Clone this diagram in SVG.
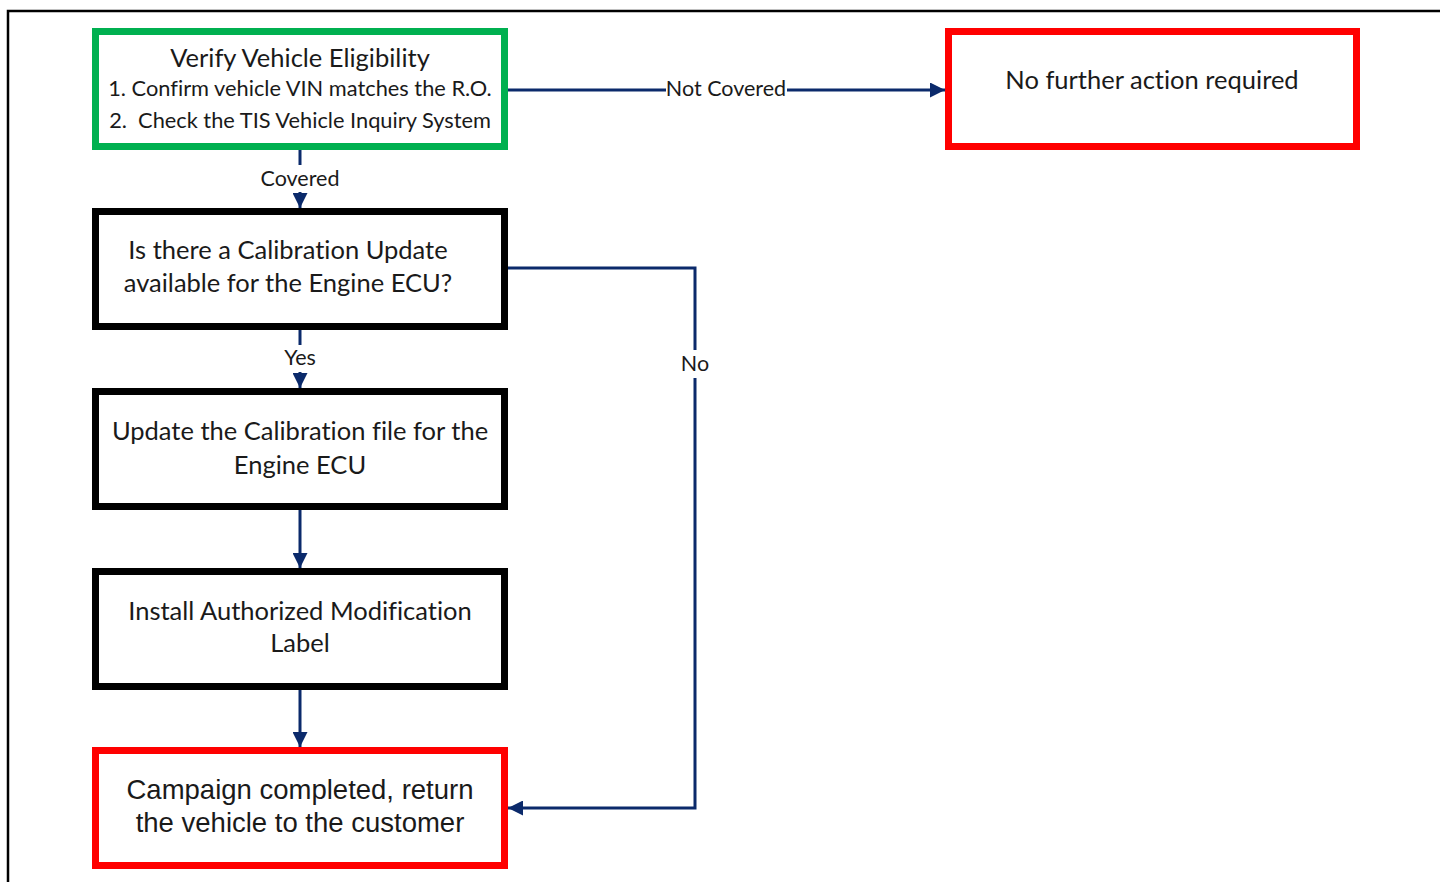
<svg xmlns="http://www.w3.org/2000/svg" width="1440" height="882" viewBox="0 0 1440 882">
<style>
.box{fill:#fff;stroke-width:7}
.g{stroke:#00b050}
.r{stroke:#ff0000}
.k{stroke:#000}
.t{font-family:Lato,"Open Sans",sans-serif;fill:#1a1a1a;text-anchor:middle;font-variant-ligatures:none}
.a{font-family:"Liberation Sans",Arial,sans-serif;fill:#1a1a1a;text-anchor:middle}
.c{fill:none;stroke:#0b2a6b;stroke-width:3}
.lbl{font-family:Lato,"Open Sans",sans-serif;font-size:21.5px;fill:#1a1a1a;text-anchor:middle}
</style>
<defs>
<marker id="ah" viewBox="0 0 10 10" refX="10" refY="5" markerWidth="5" markerHeight="5" markerUnits="strokeWidth" orient="auto">
<path d="M0,0 L10,5 L0,10 z" fill="#0b2a6b"/>
</marker>
</defs>
<rect width="1440" height="882" fill="#fff"/>
<path d="M8,882 V11 H1440" fill="none" stroke="#000" stroke-width="2.5"/>

<g id="connectors">
<path class="c" d="M300,150 V165"/>
<path class="c" d="M300,192 V208" marker-end="url(#ah)"/>
<text class="lbl" x="300" y="186">Covered</text>
<path class="c" d="M508,90 H666"/>
<path class="c" d="M787,90 H945" marker-end="url(#ah)"/>
<text class="lbl" x="726" y="96">Not Covered</text>
<path class="c" d="M300,330 V345"/>
<path class="c" d="M300,372 V388" marker-end="url(#ah)"/>
<text class="lbl" x="300" y="365">Yes</text>
<path class="c" d="M300,510 V568" marker-end="url(#ah)"/>
<path class="c" d="M300,690 V747" marker-end="url(#ah)"/>
<path class="c" d="M508,268 H695 V350"/>
<path class="c" d="M695,378 V808 H508" marker-end="url(#ah)"/>
<text class="lbl" x="695" y="371">No</text>
</g>

<g id="verify">
<rect class="box g" x="95.5" y="31.5" width="409" height="115"/>
<text class="t" x="300" y="67" font-size="25.5">Verify Vehicle Eligibility</text>
<text class="t" x="300" y="96" font-size="21.8">1. Confirm vehicle VIN matches the R.O.</text>
<text class="t" x="300" y="128" font-size="21.8" xml:space="preserve">2.  Check the TIS Vehicle Inquiry System</text>
</g>

<g id="nofurther">
<rect class="box r" x="948.5" y="31.5" width="408" height="115"/>
<text class="t" x="1152" y="89" font-size="25.5">No further action required</text>
</g>

<g id="calcheck">
<rect class="box k" x="95.5" y="211.5" width="409" height="115"/>
<text class="t" x="288" y="259" font-size="25.5">Is there a Calibration Update</text>
<text class="t" x="288" y="292" font-size="25.5">available for the Engine ECU?</text>
</g>

<g id="update">
<rect class="box k" x="95.5" y="391.5" width="409" height="115"/>
<text class="t" x="300" y="440" font-size="25.5">Update the Calibration file for the</text>
<text class="t" x="300" y="474" font-size="25.5">Engine ECU</text>
</g>

<g id="label">
<rect class="box k" x="95.5" y="571.5" width="409" height="115"/>
<text class="t" x="300" y="620" font-size="25.5">Install Authorized Modification</text>
<text class="t" x="300" y="652" font-size="25.5">Label</text>
</g>

<g id="complete">
<rect class="box r" x="95.5" y="750.5" width="409" height="115"/>
<text class="a" x="300" y="799" font-size="27.5">Campaign completed, return</text>
<text class="a" x="300" y="832" font-size="27.5">the vehicle to the customer</text>
</g>
</svg>
